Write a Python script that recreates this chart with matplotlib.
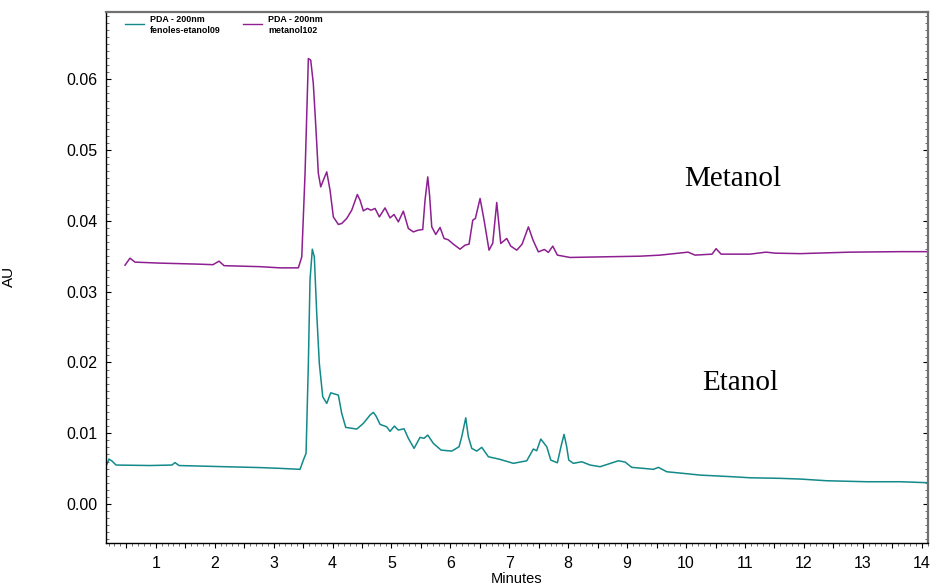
import matplotlib
matplotlib.use("Agg")
import matplotlib.pyplot as plt
from matplotlib.ticker import MultipleLocator, FuncFormatter
from matplotlib.lines import Line2D

# PDA 200 nm chromatograms: retention time (min) and absorbance (AU)
metanol_t = [0.479, 0.563, 0.648, 1.073, 1.752, 1.972, 2.074, 2.159, 2.770, 3.109,
             3.420, 3.478, 3.534, 3.590, 3.630, 3.674, 3.720, 3.759, 3.800, 3.844,
             3.902, 3.958, 4.014, 4.099, 4.156, 4.241, 4.326, 4.421, 4.467, 4.523,
             4.591, 4.654, 4.722, 4.795, 4.891, 4.976, 5.044, 5.117, 5.202, 5.287,
             5.372, 5.451, 5.531, 5.570, 5.616, 5.647, 5.684, 5.752, 5.825, 5.893,
             5.961, 6.051, 6.164, 6.249, 6.317, 6.380, 6.424, 6.504, 6.572, 6.656,
             6.719, 6.787, 6.855, 6.957, 7.025, 7.127, 7.217, 7.324, 7.403, 7.493,
             7.595, 7.663, 7.738, 7.816, 8.031, 8.540, 9.219, 9.559, 10.034, 10.152,
             10.441, 10.509, 10.594, 11.086, 11.358, 11.510, 11.935, 12.784, 13.633, 14.108]
metanol_au = [0.03374, 0.03473, 0.03417, 0.03403, 0.03388, 0.03381, 0.03431, 0.03367, 0.03353, 0.03336,
              0.03336, 0.03491, 0.04673, 0.06293, 0.06269, 0.05940, 0.05280, 0.04673, 0.04480, 0.04574,
              0.04692, 0.04433, 0.04056, 0.03949, 0.03963, 0.04034, 0.04151, 0.04372, 0.04292, 0.04141,
              0.04175, 0.04151, 0.04175, 0.04056, 0.04183, 0.04042, 0.04090, 0.03986, 0.04137, 0.03892,
              0.03844, 0.03868, 0.03878, 0.04292, 0.04621, 0.04363, 0.03915, 0.03808, 0.03907, 0.03751,
              0.03734, 0.03671, 0.03600, 0.03657, 0.03671, 0.04010, 0.04034, 0.04316, 0.04010, 0.03586,
              0.03685, 0.04260, 0.03681, 0.03751, 0.03643, 0.03586, 0.03671, 0.03915, 0.03727, 0.03562,
              0.03596, 0.03554, 0.03643, 0.03516, 0.03483, 0.03491, 0.03501, 0.03516, 0.03558, 0.03516,
              0.03530, 0.03607, 0.03530, 0.03530, 0.03558, 0.03544, 0.03537, 0.03558, 0.03565, 0.03565]

etanol_t = [0.173, 0.207, 0.258, 0.326, 0.903, 1.276, 1.327, 1.395, 2.091, 2.770,
            3.109, 3.449, 3.505, 3.551, 3.590, 3.618, 3.657, 3.691, 3.732, 3.776,
            3.834, 3.902, 3.970, 4.043, 4.099, 4.156, 4.224, 4.411, 4.523, 4.637,
            4.693, 4.739, 4.807, 4.920, 4.976, 5.049, 5.117, 5.214, 5.287, 5.384,
            5.485, 5.553, 5.616, 5.711, 5.842, 6.023, 6.147, 6.193, 6.261, 6.305,
            6.363, 6.448, 6.533, 6.645, 6.843, 7.069, 7.296, 7.408, 7.465, 7.534,
            7.636, 7.704, 7.816, 7.879, 7.929, 7.972, 8.009, 8.087, 8.230, 8.371,
            8.540, 8.681, 8.851, 8.965, 9.078, 9.275, 9.445, 9.530, 9.672, 9.954,
            10.237, 10.803, 11.086, 11.595, 11.935, 12.388, 13.067, 13.633, 14.108]
etanol_au = [0.00565, 0.00635, 0.00607, 0.00551, 0.00544, 0.00551, 0.00586, 0.00544, 0.00529, 0.00515,
             0.00504, 0.00490, 0.00621, 0.00716, 0.01986, 0.03163, 0.03600, 0.03491, 0.02692, 0.01986,
             0.01515, 0.01422, 0.01571, 0.01553, 0.01539, 0.01281, 0.01083, 0.01059, 0.01139, 0.01257,
             0.01295, 0.01242, 0.01125, 0.01091, 0.01026, 0.01101, 0.01045, 0.01063, 0.00928, 0.00786,
             0.00942, 0.00928, 0.00974, 0.00857, 0.00762, 0.00748, 0.00809, 0.00950, 0.01218, 0.00950,
             0.00786, 0.00748, 0.00801, 0.00668, 0.00631, 0.00575, 0.00611, 0.00777, 0.00753, 0.00918,
             0.00809, 0.00621, 0.00583, 0.00819, 0.00984, 0.00819, 0.00621, 0.00575, 0.00597, 0.00551,
             0.00527, 0.00565, 0.00611, 0.00593, 0.00518, 0.00504, 0.00490, 0.00518, 0.00456, 0.00433,
             0.00409, 0.00385, 0.00371, 0.00363, 0.00353, 0.00329, 0.00315, 0.00315, 0.00301]

legend_titles = ["PDA - 200nm", "PDA - 200nm"]
legend_names = ["fenoles-etanol09", "metanol102"]
x_ticks = list(range(1, 15))
y_ticks = [0.00, 0.01, 0.02, 0.03, 0.04, 0.05, 0.06]

TEAL = "#13898a"
PURPLE = "#8d1f91"

plt.rcParams["font.family"] = ["Liberation Sans", "DejaVu Sans"]

fig = plt.figure(figsize=(9.33, 5.86), dpi=100)
ax = fig.add_axes([0.1133, 0.0739, 0.8810, 0.9056])

ax.plot(etanol_t, etanol_au, color=TEAL, lw=1.1)
ax.plot(metanol_t, metanol_au, color=PURPLE, lw=1.1)

ax.set_xlim(0.151, 14.10)
ax.set_ylim(-0.00546, 0.0695)

# x axis: labelled minutes, half-minute and tenth ticks
ax.xaxis.set_major_locator(MultipleLocator(0.5))
ax.xaxis.set_minor_locator(MultipleLocator(0.1))
ax.xaxis.set_major_formatter(FuncFormatter(
    lambda v, p: f"{int(round(v))}" if abs(v - round(v)) < 1e-6 and int(round(v)) in x_ticks else ""))
ax.set_yticks(y_ticks)
ax.yaxis.set_major_formatter(FuncFormatter(lambda v, p: f"{v:.2f}"))
ax.yaxis.set_minor_locator(MultipleLocator(0.001))

ax.tick_params(axis="both", which="major", direction="out", length=3.5, width=0.8,
               labelsize=11.5, colors="black", pad=6)
ax.tick_params(axis="both", which="minor", direction="out", length=2, width=0.6, color="#555555")
ax.tick_params(axis="y", which="minor", right=True, direction="in")
ax.tick_params(axis="y", which="major", right=True, direction="in")

for side in ("left", "bottom"):
    ax.spines[side].set_color("black")
    ax.spines[side].set_linewidth(1.0)
for side in ("top", "right"):
    ax.spines[side].set_color("#707070")
    ax.spines[side].set_linewidth(1.6)

ax.set_xlabel("Minutes", fontsize=10.5, labelpad=0)
ax.xaxis.set_label_coords(0.500, -0.056)

# axis title at the left edge
fig.text(16 / 933, 1 - 276 / 586, "AU", rotation=90, ha="right", va="center", fontsize=11)

# legend entries
for i, (title, name, color) in enumerate(zip(legend_titles, legend_names, [TEAL, PURPLE])):
    x0 = 125 + i * 118
    fig.add_artist(Line2D([x0 / 933, (x0 + 19) / 933], [1 - 24 / 586, 1 - 24 / 586],
                          color=color, lw=1.0))
    fig.text((x0 + 25) / 933, 1 - 19.5 / 586, title, fontsize=6.4, fontweight="bold", va="center")
    fig.text((x0 + 25) / 933, 1 - 30.5 / 586, name, fontsize=6.4, fontweight="bold", va="center")

ax.text(10.80, 0.0459, "Metanol", fontsize=21, family="Liberation Serif", ha="center", va="center")
ax.text(10.92, 0.0171, "Etanol", fontsize=21, family="Liberation Serif", ha="center", va="center")

fig.savefig("out.png", dpi=100)
